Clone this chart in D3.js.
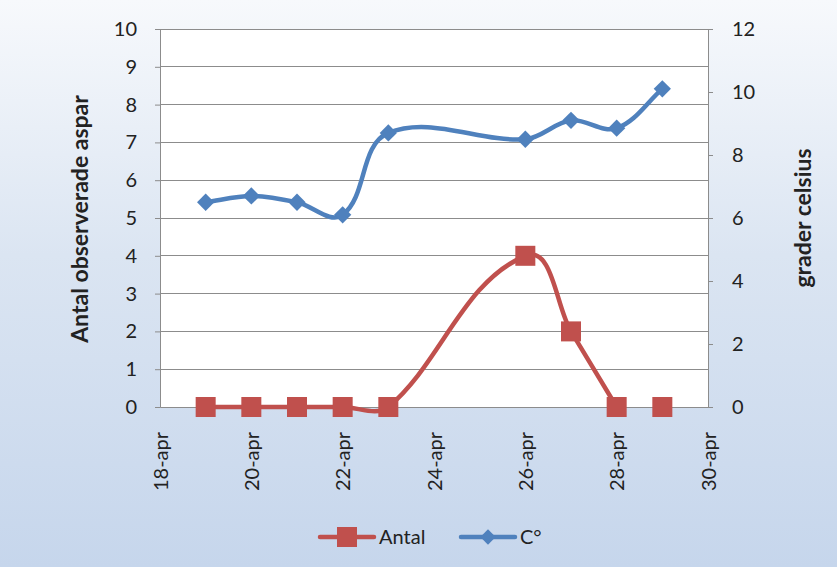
<!DOCTYPE html>
<html>
<head>
<meta charset="utf-8">
<script src="https://cdn.jsdelivr.net/npm/d3@7/dist/d3.min.js"></script>
<style>
  html, body { margin: 0; padding: 0; background: #fff; }
  svg { display: block; }
  text { font-family: Lato, "Open Sans", "Liberation Sans", sans-serif; fill: #222; }
</style>
</head>
<body>
<svg id="chart" width="837" height="567"></svg>
<script>
// Observation dates (April)
const dates = ["2010-04-19","2010-04-20","2010-04-21","2010-04-22","2010-04-23","2010-04-26","2010-04-27","2010-04-28","2010-04-29"];
// Number of observed aspens per day
const antal = [0, 0, 0, 0, 0, 4, 2, 0, 0];
// Whether each Antal point is joined to the previous one by the line
const antalJoined = [false, true, true, true, true, true, true, true, false];
// Temperature, degrees Celsius
const celsius = [6.5, 6.7, 6.5, 6.1, 8.7, 8.5, 9.1, 8.85, 10.1];
// Axis ticks
const leftTicks = [0,1,2,3,4,5,6,7,8,9,10];
const rightTicks = [0,2,4,6,8,10,12];
const xTickDates = ["2010-04-18","2010-04-20","2010-04-22","2010-04-24","2010-04-26","2010-04-28","2010-04-30"];
const seriesNames = ["Antal", "C°"];

const parse = d3.timeParse("%Y-%m-%d");
const fmt = d3.timeFormat("%-d-apr");

const svg = d3.select("#chart");
const W = 837, H = 567;
const plot = {left: 160, right: 708, top: 29, bottom: 407};
const red = "#C0504D", blue = "#4F81BD";
const font = "Lato, 'Open Sans', sans-serif";

// Smoothed line: tangent direction from the neighbours, handle length
// proportional to each segment's own length (keeps short segments tight).
function smoothPath(pts, k = 1 / 3) {
  const p = d3.path();
  const n = pts.length;
  if (!n) return "";
  const dir = pts.map((pt, i) => {
    const a = pts[Math.max(0, i - 1)], b = pts[Math.min(n - 1, i + 1)];
    const dx = b[0] - a[0], dy = b[1] - a[1], len = Math.hypot(dx, dy) || 1;
    return [dx / len, dy / len];
  });
  p.moveTo(pts[0][0], pts[0][1]);
  for (let i = 0; i < n - 1; i++) {
    const a = pts[i], b = pts[i + 1];
    const L = Math.hypot(b[0] - a[0], b[1] - a[1]) * k;
    p.bezierCurveTo(a[0] + dir[i][0] * L, a[1] + dir[i][1] * L,
                    b[0] - dir[i + 1][0] * L, b[1] - dir[i + 1][1] * L,
                    b[0], b[1]);
  }
  return p.toString();
}

// background gradient
const defs = svg.append("defs");
const grad = defs.append("linearGradient").attr("id", "bg").attr("x1", 0).attr("y1", 0).attr("x2", 0).attr("y2", 1);
grad.append("stop").attr("offset", "0%").attr("stop-color", "#f7f9fc");
grad.append("stop").attr("offset", "45%").attr("stop-color", "#dbe5f2");
grad.append("stop").attr("offset", "100%").attr("stop-color", "#c6d6ec");
svg.append("rect").attr("width", W).attr("height", H).attr("fill", "url(#bg)");

const x = d3.scaleTime().domain([parse("2010-04-18"), parse("2010-04-30")]).range([plot.left, plot.right]);
const yL = d3.scaleLinear().domain([0, 10]).range([plot.bottom, plot.top]);
const yR = d3.scaleLinear().domain([0, 12]).range([plot.bottom, plot.top]);

// plot area
svg.append("rect").attr("x", plot.left).attr("y", plot.top)
  .attr("width", plot.right - plot.left).attr("height", plot.bottom - plot.top)
  .attr("fill", "#fff");

// gridlines
svg.append("g").selectAll("line").data(leftTicks.slice(1)).join("line")
  .attr("x1", plot.left).attr("x2", plot.right)
  .attr("y1", d => yL(d)).attr("y2", d => yL(d))
  .attr("stroke", "#8c8c8c").attr("stroke-width", 1).attr("shape-rendering", "crispEdges");

// left axis
const gL = svg.append("g").attr("transform", `translate(${plot.left},0)`)
  .call(d3.axisLeft(yL).tickValues(leftTicks).tickSize(5).tickPadding(18));
gL.select(".domain").attr("stroke", "#8c8c8c");
gL.selectAll(".tick line").attr("stroke", "#8c8c8c");
gL.selectAll("text").attr("font-size", 20).attr("fill", "#222").style("font-family", font);

// right axis
const gR = svg.append("g").attr("transform", `translate(${plot.right},0)`)
  .call(d3.axisRight(yR).tickValues(rightTicks).tickSize(5).tickPadding(19));
gR.select(".domain").attr("stroke", "#8c8c8c");
gR.selectAll(".tick line").attr("stroke", "#8c8c8c");
gR.selectAll("text").attr("font-size", 20).attr("fill", "#222").style("font-family", font);

// bottom axis
const gB = svg.append("g").attr("transform", `translate(0,${plot.bottom})`)
  .call(d3.axisBottom(x).tickValues(xTickDates.map(parse)).tickFormat(fmt).tickSize(0));
gB.select(".domain").attr("stroke", "#8c8c8c");
gB.selectAll("text")
  .attr("font-size", 20).attr("fill", "#222").style("font-family", font)
  .attr("text-anchor", "end").attr("transform", "rotate(-90)")
  .attr("x", -25).attr("y", 0).attr("dy", "0.35em");

// axis titles
svg.append("text").attr("transform", "translate(80,219) rotate(-90)")
  .attr("text-anchor", "middle").attr("dy", "0.35em").attr("font-size", 23).attr("font-weight", "bold")
  .text("Antal observerade aspar");
svg.append("text").attr("transform", "translate(803,218) rotate(-90)")
  .attr("text-anchor", "middle").attr("dy", "0.35em").attr("font-size", 23).attr("font-weight", "bold")
  .text("grader celsius");

// temperature series
const cData = dates.map((d, i) => ({date: parse(d), v: celsius[i]}));
svg.append("path")
  .attr("d", smoothPath(cData.map(d => [x(d.date), yR(d.v)])))
  .attr("fill", "none").attr("stroke", blue).attr("stroke-width", 4.5);
const diamond = d3.symbol().type(d3.symbolDiamond2).size(190);
svg.append("g").selectAll("path").data(cData).join("path")
  .attr("transform", d => `translate(${x(d.date)},${yR(d.v)})`)
  .attr("d", diamond).attr("fill", blue);

// count series, split into joined runs
const aData = dates.map((d, i) => ({date: parse(d), v: antal[i], joined: antalJoined[i]}));
const runs = [];
aData.forEach(d => {
  if (!d.joined || runs.length === 0) runs.push([d]); else runs[runs.length - 1].push(d);
});
svg.append("g").selectAll("path").data(runs.filter(r => r.length > 1)).join("path")
  .attr("d", r => smoothPath(r.map(d => [x(d.date), yL(d.v)])))
  .attr("fill", "none").attr("stroke", red).attr("stroke-width", 4.5);
svg.append("g").selectAll("rect").data(aData).join("rect")
  .attr("x", d => x(d.date) - 10).attr("y", d => yL(d.v) - 10)
  .attr("width", 20).attr("height", 20).attr("fill", red);

// legend
const leg = svg.append("g");
const legItems = [
  {name: seriesNames[0], color: red, x0: 320, shape: "square"},
  {name: seriesNames[1], color: blue, x0: 461, shape: "diamond"}
];
const ly = 537;
legItems.forEach(it => {
  leg.append("line").attr("x1", it.x0).attr("x2", it.x0 + 54).attr("y1", ly).attr("y2", ly)
    .attr("stroke", it.color).attr("stroke-width", 4.5).attr("stroke-linecap", "round");
  if (it.shape === "square") {
    leg.append("rect").attr("x", it.x0 + 17).attr("y", ly - 10).attr("width", 20).attr("height", 20).attr("fill", it.color);
  } else {
    leg.append("path").attr("transform", `translate(${it.x0 + 27},${ly})`).attr("d", d3.symbol().type(d3.symbolDiamond2).size(150)).attr("fill", it.color);
  }
  leg.append("text").attr("x", it.x0 + 59).attr("y", ly).attr("dy", "0.35em")
    .attr("font-size", 20).text(it.name);
});
</script>
</body>
</html>
